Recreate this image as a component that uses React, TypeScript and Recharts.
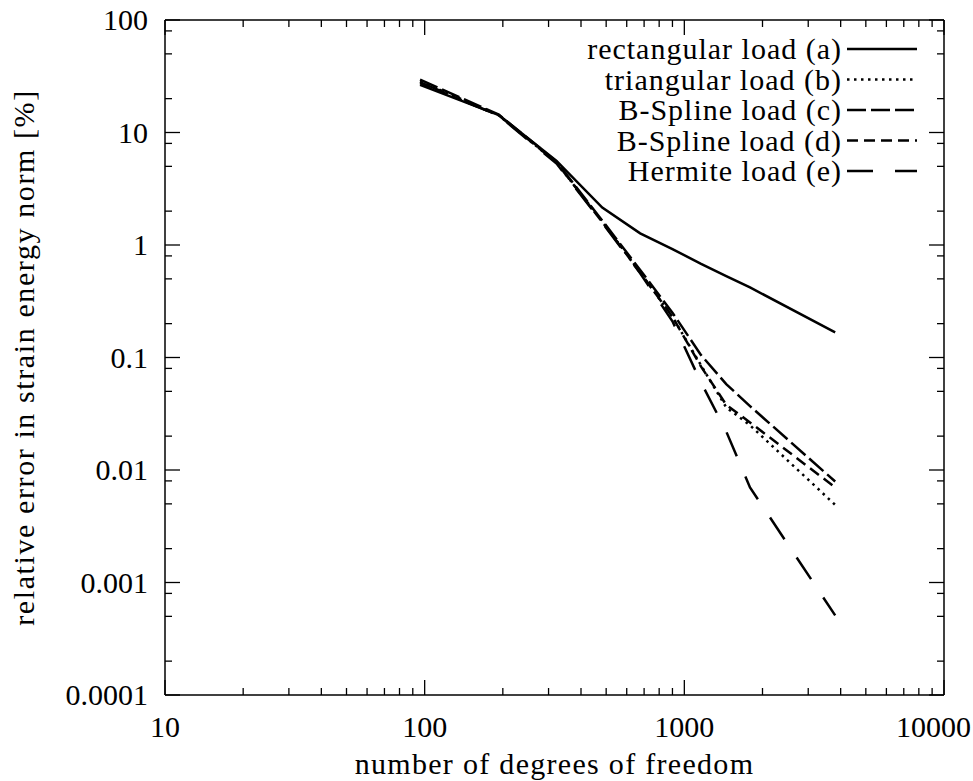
import React from 'react';
import { LineChart, Line, XAxis, YAxis, Legend } from 'recharts';

// degrees of freedom (shared x values)
const DOF = [96, 193, 322, 483, 676, 900, 1160, 1450, 1790, 3810];

// relative error in strain energy norm [%]
const RECT = [26.5, 14.3, 5.6, 2.15, 1.27, 0.92, 0.68, 0.53, 0.42, 0.167];
const TRI = [28.5, 14.2, 5.4, 1.62, 0.57, 0.23, 0.085, 0.036, 0.025, 0.0049];
const BSPL_C = [29.5, 14.4, 5.5, 1.65, 0.6, 0.25, 0.105, 0.058, 0.037, 0.0079];
const BSPL_D = [27.5, 14.2, 5.4, 1.6, 0.57, 0.23, 0.083, 0.038, 0.0265, 0.007];
const HERM = [28, 14.1, 5.3, 1.58, 0.56, 0.21, 0.06, 0.022, 0.007, 0.00051];

const X_TICKS = [
  10, 20, 30, 40, 50, 60, 70, 80, 90,
  100, 200, 300, 400, 500, 600, 700, 800, 900,
  1000, 2000, 3000, 4000, 5000, 6000, 7000, 8000, 9000,
  10000,
];
const Y_TICKS = [
  0.0001, 0.0002, 0.0005, 0.0008,
  0.001, 0.002, 0.005, 0.008,
  0.01, 0.02, 0.05, 0.08,
  0.1, 0.2, 0.5, 0.8,
  1, 2, 5, 8,
  10, 20, 50, 80,
  100,
];
const X_LABELS = ['10', '100', '1000', '10000'];
const Y_LABELS = ['0.0001', '0.001', '0.01', '0.1', '1', '10', '100'];

const SERIES = [
  { key: 'a', name: 'rectangular load (a)', dash: undefined as string | undefined },
  { key: 'b', name: 'triangular load (b)', dash: '2.5 4.5' },
  { key: 'c', name: 'B-Spline load (c)', dash: '19 5' },
  { key: 'd', name: 'B-Spline load (d)', dash: '11 6' },
  { key: 'e', name: 'Hermite load (e)', dash: '26 22' },
];

const rows = DOF.map((x, i) => ({
  x,
  a: RECT[i],
  b: TRI[i],
  c: BSPL_C[i],
  d: BSPL_D[i],
  e: HERM[i],
}));

const FONT = "'Liberation Serif', 'DejaVu Serif', 'Times New Roman', serif";
const FS = 30;
const MAJOR = 15;
const MINOR = 7;
const W = 973;
const txt = { fontFamily: FONT, fontSize: FS, fill: '#000' };

const isMajor = (v: number) => {
  const l = Math.log10(v);
  return Math.abs(l - Math.round(l)) < 1e-6;
};

const makeXTick = (side: 'bottom' | 'top') => (props: any) => {
  const { x, y, payload } = props;
  const v = payload.value;
  const major = isMajor(v);
  const len = major ? MAJOR : MINOR;
  const dir = side === 'bottom' ? -1 : 1;
  const label = X_LABELS[Math.round(Math.log10(v)) - 1];
  // keep the last label inside the picture
  const atEdge = x + 45 > W;
  return (
    <g>
      <line x1={x} y1={y} x2={x} y2={y + dir * len} stroke="#000" strokeWidth={1.3} />
      {side === 'bottom' && major && (
        <text x={atEdge ? W - 2 : x} y={y + 42} textAnchor={atEdge ? 'end' : 'middle'} style={txt}>
          {label}
        </text>
      )}
    </g>
  );
};

const makeYTick = (side: 'left' | 'right') => (props: any) => {
  const { x, y, payload } = props;
  const v = payload.value;
  const major = isMajor(v);
  const len = major ? MAJOR : MINOR;
  const dir = side === 'left' ? 1 : -1;
  return (
    <g>
      <line x1={x} y1={y} x2={x + dir * len} y2={y} stroke="#000" strokeWidth={1.3} />
      {side === 'left' && major && (
        <text x={x - 17} y={y + 10} textAnchor="end" style={txt}>
          {Y_LABELS[Math.round(Math.log10(v)) + 4]}
        </text>
      )}
    </g>
  );
};

const renderLegend = () => (
  <svg width={W} height={200} style={{ display: 'block' }}>
    {SERIES.map((s, i) => {
      const cy = 49 + i * 30.5;
      return (
        <g key={s.key}>
          <text x={842} y={cy + 10} textAnchor="end" style={{ ...txt, letterSpacing: 1 }}>
            {s.name}
          </text>
          <line x1={847} y1={cy} x2={917} y2={cy} stroke="#000" strokeWidth={2.5} strokeDasharray={s.dash} />
        </g>
      );
    })}
  </svg>
);

const axisLine = { stroke: '#000', strokeWidth: 1.5 };

export default function App() {
  return (
    <div style={{ position: 'fixed', left: 0, top: 0, width: W, height: 781, background: '#fff', fontFamily: FONT }}>
      <LineChart width={W} height={781} data={rows} margin={{ top: 19, right: 28, bottom: 0, left: 0 }}>
        <XAxis
          xAxisId="bottom"
          dataKey="x"
          type="number"
          scale="log"
          domain={[10, 10000]}
          allowDataOverflow
          ticks={X_TICKS}
          interval={0}
          tickSize={0}
          tickMargin={0}
          tickLine={false}
          axisLine={axisLine}
          height={86}
          tick={makeXTick('bottom')}
          label={(p: any) => {
            const vb = p.viewBox;
            return (
              <text x={vb.x + vb.width / 2} y={vb.y + 79} textAnchor="middle" style={{ ...txt, letterSpacing: 1.3 }}>
                number of degrees of freedom
              </text>
            );
          }}
        />
        <XAxis
          xAxisId="top"
          orientation="top"
          dataKey="x"
          type="number"
          scale="log"
          domain={[10, 10000]}
          allowDataOverflow
          ticks={X_TICKS}
          interval={0}
          tickSize={0}
          tickMargin={0}
          tickLine={false}
          axisLine={axisLine}
          height={1}
          tick={makeXTick('top')}
        />
        <YAxis
          yAxisId="left"
          type="number"
          scale="log"
          domain={[0.0001, 100]}
          allowDataOverflow
          ticks={Y_TICKS}
          interval={0}
          tickSize={0}
          tickMargin={0}
          tickLine={false}
          axisLine={axisLine}
          width={165}
          tick={makeYTick('left')}
          label={(p: any) => {
            const vb = p.viewBox;
            const cx = 34;
            const cy = vb.y + vb.height / 2;
            return (
              <text
                x={cx}
                y={cy}
                transform={`rotate(-90, ${cx}, ${cy})`}
                textAnchor="middle"
                style={{ ...txt, letterSpacing: 1.6 }}
              >
                relative error in strain energy norm [%]
              </text>
            );
          }}
        />
        <YAxis
          yAxisId="right"
          orientation="right"
          type="number"
          scale="log"
          domain={[0.0001, 100]}
          allowDataOverflow
          ticks={Y_TICKS}
          interval={0}
          tickSize={0}
          tickMargin={0}
          tickLine={false}
          axisLine={axisLine}
          width={1}
          tick={makeYTick('right')}
        />
        <Legend
          layout="horizontal"
          verticalAlign="middle"
          align="center"
          wrapperStyle={{ left: 0, top: 0, width: W, height: 200 }}
          content={renderLegend}
        />
        {/* invisible series keeping the mirror axes bound to data */}
        <Line
          xAxisId="top"
          yAxisId="right"
          dataKey="a"
          stroke="none"
          dot={false}
          activeDot={false}
          legendType="none"
          isAnimationActive={false}
        />
        {SERIES.map((s) => (
          <Line
            key={s.key}
            xAxisId="bottom"
            yAxisId="left"
            type="linear"
            dataKey={s.key}
            name={s.name}
            stroke="#000"
            strokeWidth={2.5}
            strokeDasharray={s.dash}
            dot={false}
            activeDot={false}
            isAnimationActive={false}
          />
        ))}
      </LineChart>
    </div>
  );
}
